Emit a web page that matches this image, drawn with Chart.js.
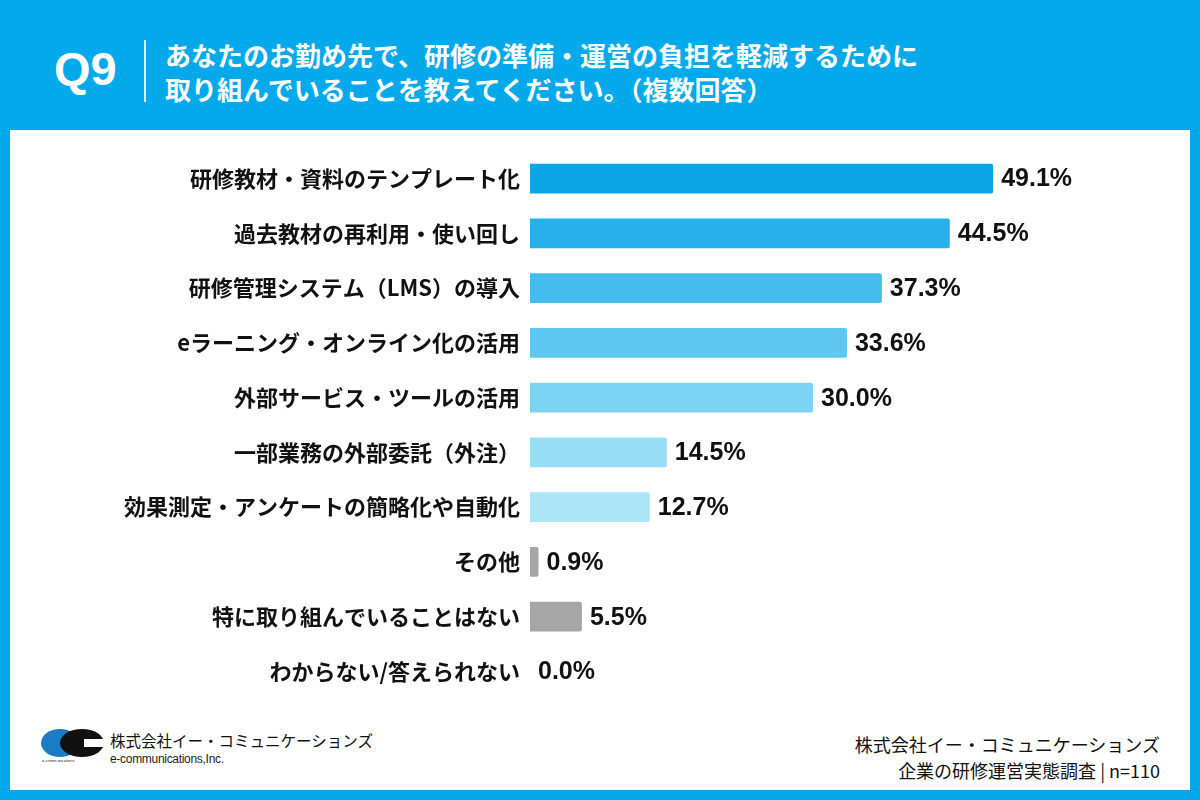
<!DOCTYPE html>
<html>
<head>
<meta charset="utf-8">
<script src="https://cdn.jsdelivr.net/npm/chart.js@4"></script>
<style>
  html, body { margin: 0; padding: 0; }
  body { width: 1200px; height: 800px; background: #03A9EB; position: relative; overflow: hidden;
         font-family: 'Noto Sans CJK JP', 'Noto Sans', sans-serif; }
  #card { position: absolute; left: 10px; top: 130px; width: 1180px; height: 660px; background: #fff; }
  #q { position: absolute; left: 54px; top: 41px; color: #fff; font: bold 47px 'Liberation Sans', Arial, sans-serif; }
  #bar { position: absolute; left: 144px; top: 40px; width: 2px; height: 62px; background: #fff; opacity: 0.85; }
  #title { position: absolute; left: 165px; top: 38px; color: #fff; font-weight: bold; font-size: 26px; line-height: 34px; }
  #wrap { position: absolute; left: 0; top: 128px; width: 1200px; height: 594px; }
  #srcR { position: absolute; right: 40px; top: 731px; text-align: right; font-size: 18px; line-height: 26px; color: #111; }
  #logoTxt { position: absolute; left: 110px; top: 729px; font-size: 15.5px; color: #111; }
  #logoSub { position: absolute; left: 110px; top: 752px; font: 12px 'Liberation Sans', Arial, sans-serif; color: #222; letter-spacing: -0.3px; }
  #logo { position: absolute; left: 40px; top: 728px; }
</style>
</head>
<body>
<div id="card"></div>
<div id="q">Q9</div>
<div id="bar"></div>
<div id="title">あなたのお勤め先で、研修の準備・運営の負担を軽減するために<br>取り組んでいることを教えてください。（複数回答）</div>
<div id="wrap"><canvas id="c"></canvas></div>
<canvas id="logo" width="68" height="36"></canvas>
<div id="logoTxt">株式会社イー・コミュニケーションズ</div>
<div id="logoSub">e-communications,Inc.</div>
<div id="srcR">株式会社イー・コミュニケーションズ<br>企業の研修運営実態調査 | n=110</div>
<script>
// data
var labels = [
  '研修教材・資料のテンプレート化',
  '過去教材の再利用・使い回し',
  '研修管理システム（LMS）の導入',
  'eラーニング・オンライン化の活用',
  '外部サービス・ツールの活用',
  '一部業務の外部委託（外注）',
  '効果測定・アンケートの簡略化や自動化',
  'その他',
  '特に取り組んでいることはない',
  'わからない/答えられない'
];
var values = [49.1, 44.5, 37.3, 33.6, 30.0, 14.5, 12.7, 0.9, 5.5, 0.0];
var barColors = ['#0AA6E6', '#27B1EA', '#44BCEE', '#5EC7F1', '#7DD3F4', '#98DDF6', '#ACE5F7', '#A6A6A6', '#A6A6A6', '#A6A6A6'];

// value labels at the end of bars
var valueLabels = {
  id: 'valueLabels',
  afterDatasetsDraw: function(chart) {
    var ctx = chart.ctx;
    var meta = chart.getDatasetMeta(0);
    ctx.save();
    ctx.fillStyle = '#111';
    ctx.font = 'bold 25px "Liberation Sans", Arial, sans-serif';
    ctx.textBaseline = 'middle';
    ctx.textAlign = 'left';
    meta.data.forEach(function(bar, i) {
      ctx.fillText(values[i].toFixed(1) + '%', bar.x + 8, bar.y + 1);
    });
    ctx.restore();
  }
};

var chart = new Chart(document.getElementById('c'), {
  type: 'bar',
  data: {
    labels: labels,
    datasets: [{
      data: values,
      backgroundColor: barColors,
      borderRadius: 2,
      borderSkipped: 'start',
      barPercentage: 0.545,
      categoryPercentage: 1
    }]
  },
  options: {
    indexAxis: 'y',
    responsive: true,
    maintainAspectRatio: false,
    animation: false,
    layout: { padding: { left: 0, right: 104, top: 0, bottom: 0 } },
    plugins: { legend: { display: false }, tooltip: { enabled: false } },
    scales: {
      x: { display: false, min: 0, max: 60 },
      y: {
        grid: { display: false, drawTicks: false },
        border: { display: false },
        ticks: {
          padding: 10,
          color: '#111',
          font: { family: "'Noto Sans CJK JP'", size: 22, weight: 'bold' }
        },
        afterFit: function(scale) { scale.width = 530; }
      }
    }
  },
  plugins: [valueLabels]
});

// logo mark
var lg = document.getElementById('logo').getContext('2d');
lg.fillStyle = '#1A7CC4';
lg.beginPath(); lg.ellipse(20, 15, 19, 14, 0, 0, Math.PI * 2); lg.fill();
lg.fillStyle = '#111';
lg.beginPath(); lg.ellipse(42, 15, 22, 14, 0, 0, Math.PI * 2); lg.fill();
lg.fillStyle = '#fff';
lg.fillRect(44, 11, 24, 8);
lg.fillStyle = '#333';
lg.font = '4px sans-serif';
lg.fillText('e-communications', 2, 34);
</script>
</body>
</html>
